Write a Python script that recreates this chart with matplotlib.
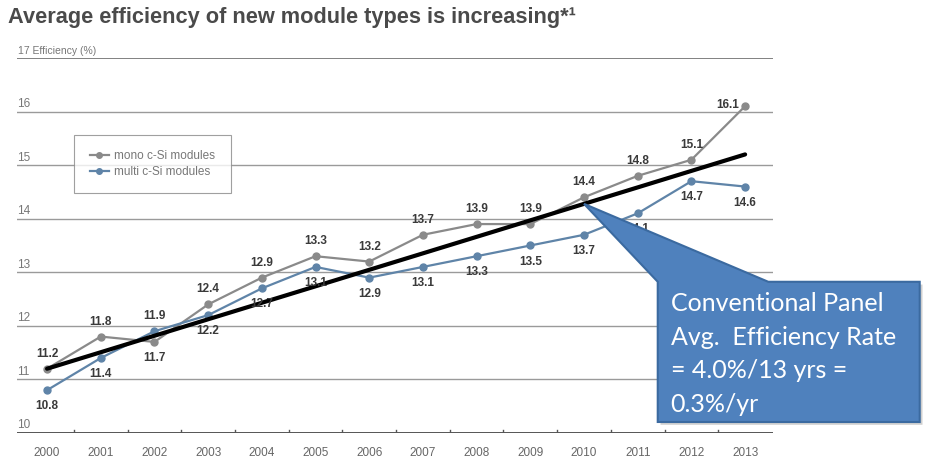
#!/usr/bin/env python

import numpy as np
from matplotlib import pyplot as plt, font_manager
from matplotlib.patches import Polygon
from matplotlib.lines import Line2D

years = np.arange(2000, 2014)
mono = [11.2, 11.8, 11.7, 12.4, 12.9, 13.3, 13.2, 13.7, 13.9, 13.9, 14.4, 14.8, 15.1, 16.1]
multi = [10.8, 11.4, 11.9, 12.2, 12.7, 13.1, 12.9, 13.1, 13.3, 13.5, 13.7, 14.1, 14.7, 14.6]
trend_years = [2000, 2013]
trend_vals = [11.2, 15.2]
yticks = [10, 11, 12, 13, 14, 15, 16]

title = 'Average efficiency of new module types is increasing*\u00b9'
callout = 'Conventional Panel\nAvg.  Efficiency Rate\n= 4.0%/13 yrs =\n0.3%/yr'

MONO_C = '#8a8a8a'
MULTI_C = '#5f84a8'
LABEL_C = '#3a3a3a'


def have_font(name):
    try:
        font_manager.findfont(font_manager.FontProperties(family=name),
                              fallback_to_default=False)
        return True
    except ValueError:
        return False


HAS_NARROW = have_font('Liberation Sans Narrow')
NARROW = ['Liberation Sans Narrow' if HAS_NARROW else 'Liberation Sans', 'DejaVu Sans']


def main():
    fig = plt.figure(figsize=(9.29, 4.65), dpi=100)
    ax = fig.add_axes([0.0183, 0.0688, 0.8138, 0.8065])
    ax.set_xlim(1999.44, 2013.52)
    ax.set_ylim(10, 17)
    for s in ax.spines.values():
        s.set_visible(False)
    ax.set_xticks([])
    ax.set_yticks([])

    # horizontal grid, top line a bit heavier, bottom is the axis
    for v in yticks[1:] + [17]:
        ax.axhline(v, color='#9a9a9a' if v < 17 else '#777777',
                   lw=1.0 if v < 17 else 1.3, zorder=1)
    ax.axhline(10, color='#555555', lw=1.4, zorder=1)
    for x in years[:-1] + 0.5:
        ax.plot([x, x], [10, 10.05], color='#555555', lw=1, zorder=1)

    # y labels sit on the grid lines
    for v in yticks:
        ax.text(1999.45, v + 0.03, str(v), fontsize=8.5, color='#777777',
                family=NARROW, va='bottom', ha='left')
    ax.text(1999.45, 17.04, '17 Efficiency (%)', fontsize=7.5, color='#777777',
            family=NARROW, va='bottom', ha='left')
    for yr in years:
        ax.text(yr, 9.63, str(yr), fontsize=8.5, color='#666666',
                family=NARROW, ha='center', va='center')

    ax.plot(years, mono, color=MONO_C, lw=1.6, marker='o', ms=5, zorder=3)
    ax.plot(years, multi, color=MULTI_C, lw=1.6, marker='o', ms=5, zorder=3)
    ax.plot(trend_years, trend_vals, color='black', lw=3, zorder=4,
            solid_capstyle='round')

    # value labels: mono above, multi below, with a few swapped spots
    for i, yr in enumerate(years):
        dm, dn = 0.28, -0.3
        xm, hm = yr, 'center'
        if yr == 2002:
            dm, dn = -0.3, 0.28
        if yr == 2013:
            xm, dm, hm = yr - 0.12, 0.02, 'right'
        ax.text(xm, mono[i] + dm, f'{mono[i]:.1f}', fontsize=8.5, weight='bold',
                color=LABEL_C, family=NARROW, ha=hm, va='center', zorder=5)
        ax.text(yr, multi[i] + dn, f'{multi[i]:.1f}', fontsize=8.5, weight='bold',
                color=LABEL_C, family=NARROW, ha='center', va='center', zorder=5)

    handles = [Line2D([], [], color=MONO_C, lw=1.6, marker='o', ms=4),
               Line2D([], [], color=MULTI_C, lw=1.6, marker='o', ms=4)]
    leg = ax.legend(handles, ['mono c-Si modules', 'multi c-Si modules'],
                    loc='upper left', bbox_to_anchor=(0.068, 0.81),
                    prop={'family': NARROW, 'size': 8.5}, labelcolor='#777777',
                    frameon=True, fancybox=False, edgecolor='#888888',
                    handlelength=1.6, borderpad=1.3, labelspacing=0.3,
                    handletextpad=0.5)
    leg.get_frame().set_linewidth(0.8)
    leg.set_zorder(6)

    fig.text(0.009, 0.962, title, fontsize=18.3 if HAS_NARROW else 15.7,
             weight='bold', color='#4a4a4a', family=NARROW, va='center', ha='left')

    # callout box with pointer to the trend line at 2010
    tip_val = np.interp(2010, trend_years, trend_vals)
    tip = fig.transFigure.inverted().transform(ax.transData.transform((2010, tip_val)))
    x0, x1, y0, y1 = 0.708, 0.990, 0.0925, 0.394
    shape = [(x0, y0), (x0, y1), tuple(tip), (0.827, y1), (x1, y1), (x1, y0)]
    shadow = Polygon([(x + 0.003, y - 0.006) for x, y in shape], closed=True,
                     transform=fig.transFigure, facecolor='#cfcfcf', edgecolor='none',
                     zorder=7)
    box = Polygon(shape, closed=True, transform=fig.transFigure,
                  facecolor='#4f81bd', edgecolor='#3b6aa0', lw=1.5, zorder=8)
    fig.add_artist(shadow)
    fig.add_artist(box)
    fig.text(0.722, 0.239, callout, fontsize=18, color='white',
             family=['Lato', 'DejaVu Sans'], va='center', ha='left',
             linespacing=1.55, zorder=9)

    fig.savefig('out.png', dpi=100, facecolor='white')


if __name__ == '__main__':
    main()
